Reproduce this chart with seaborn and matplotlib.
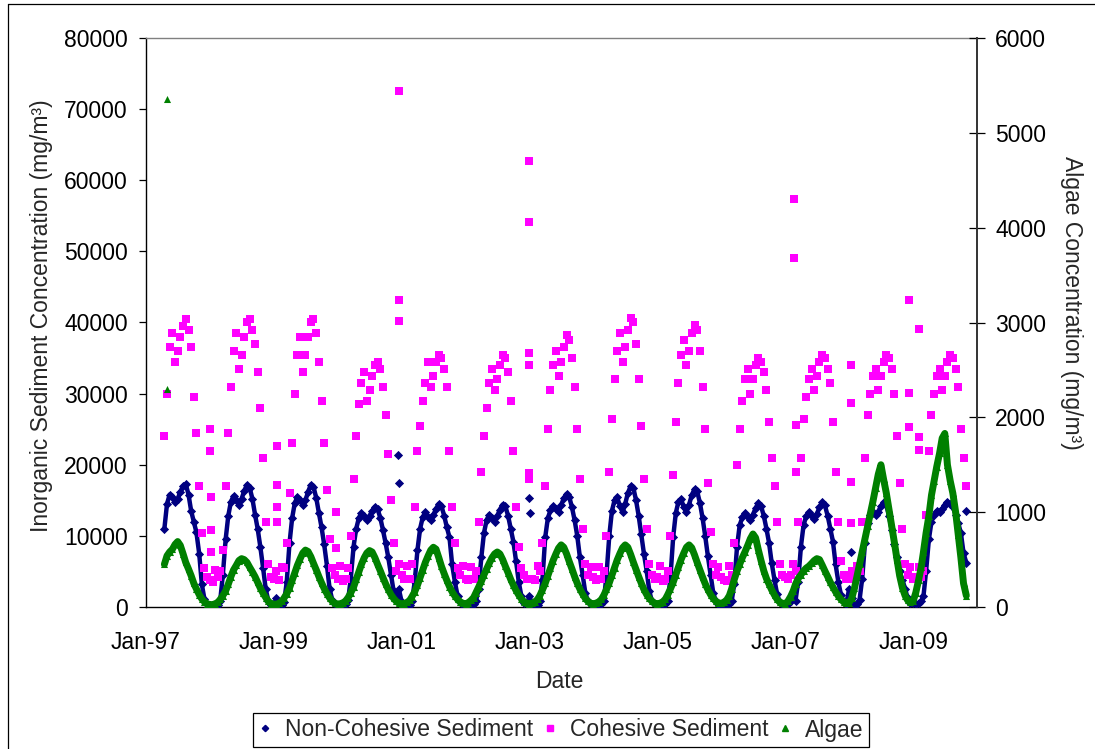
import pandas as pd
import matplotlib
matplotlib.use("Agg")
import matplotlib.pyplot as plt
import matplotlib.dates as mdates
from matplotlib.lines import Line2D
import seaborn as sns

# ---------------------------------------------------------------------------
# Semi-monthly samples (1st and 16th of every month, Jan..Dec), one row per year.
# None marks dates outside the simulation period.
# ---------------------------------------------------------------------------
YEARS = list(range(1997, 2010))
SAMPLE_DAYS = (1, 16)

# Non-cohesive sediment, mg/m3 (left axis)
non_cohesive = [
    [None, None, None, None, None, None, None, 11000, 14500, 15800, 15500, 14800,
     15200, 16200, 17000, 17300, 15800, 13500, 12000, 10500, 7500, 3200, 1100, 400],
    [250, 300, 200, 350, 900, 4500, 9500, 12800, 14800, 15600, 15000, 14400,
     15200, 16300, 17200, 16800, 15200, 13000, 11000, 8500, 5500, 2500, 900, 350],
    [300, 1200, 300, 250, 700, 3500, 9000, 12500, 14600, 15500, 15000, 14300,
     15000, 16200, 17200, 16900, 15300, 13200, 11200, 8800, 5800, 2600, 1000, 400],
    [300, 250, 300, 400, 1000, 4000, 8500, 11000, 12500, 13200, 12800, 12300,
     12800, 13500, 14100, 13800, 12500, 10800, 9000, 7000, 4500, 2200, 1200, 2500],
    [700, 400, 300, 350, 900, 3500, 8000, 11000, 12600, 13300, 12700, 12200,
     12900, 13800, 14500, 14200, 12800, 11200, 9800, 6000, 3500, 1600, 700, 300],
    [300, 250, 300, 400, 800, 2500, 7000, 10400, 12200, 13000, 12500, 12000,
     12800, 13700, 14400, 14200, 12800, 11000, 9200, 6500, 3500, 1500, 600, 400],
    [1500, 400, 300, 350, 900, 3800, 9800, 12500, 13600, 14200, 13800, 13400,
     14300, 15300, 15900, 15500, 14000, 12200, 10000, 7000, 4500, 2000, 800, 400],
    [300, 250, 300, 400, 900, 4500, 10000, 13500, 15000, 15400, 14200, 13300,
     14500, 16000, 17000, 16800, 15000, 12800, 10200, 7500, 5000, 2200, 800, 400],
    [300, 250, 300, 400, 800, 4000, 9800, 13200, 14800, 15200, 14000, 13300,
     14400, 15700, 16600, 16300, 14600, 12500, 10000, 7200, 4500, 2000, 800, 400],
    [300, 250, 300, 400, 800, 3200, 8500, 11500, 12600, 13200, 12700, 12300,
     13000, 13900, 14600, 14200, 12800, 11000, 9000, 6200, 3800, 1800, 700, 400],
    [300, 400, 800, 1500, 900, 3500, 8500, 11500, 12800, 13300, 12800, 12400,
     13100, 14000, 14700, 14300, 12800, 11000, 9200, 6000, 3500, 1700, 700, 400],
    [2500, 1200, 400, 400, 1000, 4000, 9000, 11800, 13000, 13400, 13000, 13400,
     14200, 14700, 14300, 12800, 10800, 8800, 7000, 5000, 3800, 2600, 1200, 600],
    [500, 400, 500, 800, 1500, 5000, 9500, 12000, 13000, 13500, 13300, 13800,
     14400, 14800, 14500, 14000, 13000, 11800, 10400, 7600, 6200, None, None, None],
]

# Cohesive sediment, mg/m3 (left axis)
cohesive = [
    [None, None, None, None, None, None, None, 24000, 30000, 36500, 38500, 34500,
     36000, 38000, 39500, 40500, 39000, 36500, 29500, 24500, 17000, 10400, 5500, 4200],
    [3800, 3500, 5200, 4200, 5000, 8000, 17000, 24500, 31000, 36000, 38500, 33500,
     35500, 38000, 40000, 40500, 39000, 37000, 33000, 28000, 21000, 12000, 6000, 4200],
    [4000, 5000, 3800, 5600, 5500, 9000, 16000, 23000, 30000, 35500, 38000, 33000,
     35500, 38000, 40000, 40500, 38500, 34500, 29000, 23000, 16500, 9500, 5500, 4500],
    [4000, 5800, 3600, 4000, 5500, 10000, 18000, 24000, 28500, 31500, 33000, 29000,
     30500, 32500, 34000, 34500, 33500, 31000, 27000, 21500, 15000, 9000, 5000, 6000],
    [4500, 4000, 5800, 4000, 6000, 14000, 22000, 25500, 29000, 31500, 34500, 31000,
     32500, 34500, 35500, 35000, 33500, 31000, 22000, 14000, 9000, 5500, 4500, 5800],
    [4000, 3800, 5600, 4000, 5000, 12000, 19000, 24000, 28000, 31500, 33500, 30500,
     32000, 34000, 35500, 35000, 33000, 29000, 22000, 14000, 8500, 5500, 4500, 4000],
    [18000, 4000, 3800, 5800, 5000, 9000, 17000, 25000, 30500, 34000, 36000, 32500,
     34500, 36500, 38200, 37500, 35000, 31000, 25000, 18000, 11000, 6000, 4500, 5600],
    [4200, 3800, 5600, 4000, 5000, 10000, 19000, 26500, 32000, 36000, 38500, 34500,
     36500, 39000, 40600, 40000, 37000, 32000, 25500, 18000, 11000, 6000, 4500, 4000],
    [4200, 5800, 3600, 4000, 5000, 10000, 18500, 26000, 31500, 35500, 37500, 34000,
     36000, 38500, 39700, 39000, 36000, 31000, 25000, 17500, 10500, 6000, 4500, 5600],
    [4200, 3800, 3600, 5800, 4500, 9000, 20000, 25000, 29000, 32000, 33500, 30000,
     32000, 34000, 35000, 34500, 33000, 30500, 26000, 21000, 17000, 12000, 6000, 4500],
    [4200, 4000, 4500, 6000, 5000, 12000, 21000, 26500, 29500, 32000, 33500, 30500,
     32500, 34500, 35500, 35000, 33500, 31500, 26000, 19000, 12000, 6500, 4500, 4000],
    [4500, 5000, 4000, 5800, 5000, 12000, 21000, 27000, 30000, 32500, 33500, 30500,
     32500, 34500, 35500, 35000, 33500, 30000, 24000, 17500, 11000, 6000, 4500, 5600],
    [4000, 4200, 5600, 4200, 5000, 13000, 22000, 27000, 30000, 32500, 33500, 30500,
     32500, 34500, 35500, 35000, 33500, 31000, 25000, 21000, 17000, None, None, None],
]

# Algae, mg/m3 (right axis)
algae = [
    [None, None, None, None, None, None, None, 450, 540, 580, 610, 660,
     690, 650, 560, 470, 400, 330, 250, 190, 130, 85, 55, 35],
    [25, 25, 35, 50, 80, 120, 170, 240, 320, 390, 440, 490,
     510, 500, 470, 420, 370, 320, 260, 200, 145, 100, 60, 35],
    [30, 30, 40, 60, 95, 140, 200, 280, 360, 440, 510, 570,
     600, 585, 530, 460, 390, 320, 255, 195, 140, 95, 60, 40],
    [30, 35, 45, 65, 100, 150, 210, 290, 370, 450, 520, 570,
     595, 580, 520, 450, 380, 310, 245, 185, 130, 90, 60, 40],
    [35, 35, 50, 70, 110, 160, 230, 310, 390, 470, 540, 600,
     630, 610, 520, 430, 350, 280, 215, 160, 115, 80, 55, 40],
    [35, 45, 70, 100, 150, 210, 270, 340, 400, 460, 520, 560,
     580, 560, 500, 430, 360, 290, 230, 175, 125, 85, 55, 40],
    [35, 40, 55, 80, 120, 180, 250, 330, 410, 490, 560, 620,
     655, 630, 560, 480, 400, 320, 250, 190, 135, 90, 60, 40],
    [35, 40, 55, 80, 125, 185, 255, 335, 415, 495, 565, 625,
     655, 630, 555, 475, 395, 320, 250, 185, 130, 90, 60, 40],
    [35, 40, 55, 85, 130, 190, 260, 340, 420, 500, 570, 630,
     655, 625, 550, 470, 390, 315, 245, 185, 130, 90, 60, 40],
    [40, 50, 75, 120, 190, 290, 380, 450, 520, 580, 650, 720,
     770, 730, 600, 490, 380, 300, 240, 180, 125, 80, 50, 40],
    [35, 60, 110, 170, 240, 300, 340, 380, 410, 430, 460, 490,
     510, 500, 440, 380, 320, 260, 210, 160, 115, 80, 55, 40],
    [45, 90, 200, 330, 450, 580, 720, 850, 980, 1110, 1260, 1400,
     1500, 1350, 1200, 1030, 850, 680, 500, 330, 200, 120, 70, 50],
    [60, 150, 280, 420, 580, 780, 960, 1180, 1330, 1480, 1620, 1780,
     1830, 1500, 1330, 1200, 1000, 760, 520, 250, 120, None, None, None],
]

# Storm-event samples between the regular dates
cohesive_event_dates = [
    "1998-01-03", "1998-01-03", "1998-01-06", "1998-01-06", "1998-01-08",
    "1999-01-18", "1999-01-18", "1999-01-18", "1999-01-18",
    "1999-12-25", "1999-12-25",
    "2000-12-14", "2000-12-14", "2000-12-14",
    "2003-01-01", "2003-01-01", "2003-01-01", "2003-01-01", "2003-01-01",
    "2007-02-21", "2007-02-21", "2007-03-01", "2007-03-01",
    "2008-01-12", "2008-01-12", "2008-01-12", "2008-01-12",
    "2008-12-09", "2008-12-09", "2008-12-09",
    "2009-02-03", "2009-02-03", "2009-02-03",
]
cohesive_event_values = [
    25000, 22000, 15500, 10800, 7700,
    22600, 17200, 14100, 12000,
    13400, 8300,
    72500, 43200, 40200,
    62700, 54100, 35700, 34000, 18800,
    57400, 49100, 25600, 19000,
    34000, 28700, 17600, 11800,
    43200, 30100, 25300,
    39100, 23900, 22100,
]
non_cohesive_event_dates = ["2000-12-10", "2000-12-14", "2003-01-01", "2003-01-02",
                            "2008-01-12", "2009-10-30"]
non_cohesive_event_values = [21400, 17400, 15300, 13200, 7700, 13500]
algae_event_dates = ["1997-05-01", "1997-05-03"]
algae_event_values = [5360, 2300]

SERIES_NAMES = ["Non-Cohesive Sediment", "Cohesive Sediment", "Algae"]
COLORS = ["#000080", "#FF00FF", "#008000"]
X_TICK_YEARS = list(range(1997, 2010, 2))


def regular_frame(rows):
    dates, values = [], []
    for year, row in zip(YEARS, rows):
        k = 0
        for month in range(1, 13):
            for day in SAMPLE_DAYS:
                v = row[k]
                k += 1
                if v is not None:
                    dates.append(pd.Timestamp(year, month, day))
                    values.append(v)
    return pd.DataFrame({"date": dates, "value": values})


def event_frame(dates, values):
    return pd.DataFrame({"date": pd.to_datetime(dates), "value": values})


nc_df = regular_frame(non_cohesive)
co_df = regular_frame(cohesive)
al_df = regular_frame(algae)
nc_ev = event_frame(non_cohesive_event_dates, non_cohesive_event_values)
co_ev = event_frame(cohesive_event_dates, cohesive_event_values)
al_ev = event_frame(algae_event_dates, algae_event_values)

sns.set_style("white")
plt.rcParams["font.family"] = ["Liberation Sans", "DejaVu Sans"]
FS = 16.5

W, H = 1095, 749
fig = plt.figure(figsize=(W / 100, H / 100), dpi=100)
ax = fig.add_axes([146 / W, 1 - 607 / H, (977 - 146) / W, (607 - 38) / H])
ax2 = ax.twinx()

# non-cohesive: trace under diamond markers
sns.lineplot(data=nc_df, x="date", y="value", ax=ax, color=COLORS[0],
             lw=3.2, estimator=None, sort=True, legend=False, zorder=2)
sns.scatterplot(data=nc_df, x="date", y="value", ax=ax, color=COLORS[0],
                marker="D", s=22, linewidth=0, legend=False, zorder=3)
sns.scatterplot(data=nc_ev, x="date", y="value", ax=ax, color=COLORS[0],
                marker="D", s=22, linewidth=0, legend=False, zorder=3)

# cohesive: square markers only
sns.scatterplot(data=co_df, x="date", y="value", ax=ax, color=COLORS[1],
                marker="s", s=36, linewidth=0, legend=False, zorder=4)
sns.scatterplot(data=co_ev, x="date", y="value", ax=ax, color=COLORS[1],
                marker="s", s=36, linewidth=0, legend=False, zorder=4)

# algae on the secondary axis
sns.lineplot(data=al_df, x="date", y="value", ax=ax2, color=COLORS[2],
             lw=5.0, estimator=None, sort=True, legend=False, zorder=2)
sns.scatterplot(data=al_df, x="date", y="value", ax=ax2, color=COLORS[2],
                marker="^", s=26, linewidth=0, legend=False, zorder=3)
sns.scatterplot(data=al_ev, x="date", y="value", ax=ax2, color=COLORS[2],
                marker="^", s=26, linewidth=0, legend=False, zorder=3)

ax.set_xlim(pd.Timestamp(1997, 1, 1), pd.Timestamp(2010, 1, 1))
ax.set_ylim(0, 80000)
ax2.set_ylim(0, 6000)
ax.set_yticks(range(0, 80001, 10000))
ax2.set_yticks(range(0, 6001, 1000))
ax.set_xticks([pd.Timestamp(y, 1, 1) for y in X_TICK_YEARS])
ax.xaxis.set_major_formatter(mdates.DateFormatter("%b-%y"))

ax.set_xlabel("")
ax.set_ylabel("")
ax2.set_ylabel("")

ax.tick_params(axis="y", direction="out", length=5, width=0.9, pad=8,
               labelsize=FS, colors="black")
ax.tick_params(axis="x", direction="out", length=4.5, width=0.9, pad=13,
               labelsize=FS, colors="black")
ax2.tick_params(axis="y", direction="inout", length=11, width=0.9, pad=7.5,
                labelsize=FS, colors="black")

for name, sp in ax.spines.items():
    sp.set_visible(name in ("left", "bottom", "top"))
    sp.set_linewidth(1.0)
    sp.set_color("black")
ax.spines["top"].set_color("#808080")
for name, sp in ax2.spines.items():
    sp.set_visible(name == "right")
ax2.spines["right"].set_color("#333333")
ax2.spines["right"].set_linewidth(1.4)
ax.grid(False)
ax2.grid(False)

fig.text(42 / W, 1 - 316 / H, "Inorganic Sediment Concentration (mg/m³)",
         rotation=90, ha="center", va="center", fontsize=FS)
fig.text(1072 / W, 1 - 303 / H, "Algae Concentration (mg/m³)",
         rotation=270, ha="center", va="center", fontsize=FS)
fig.text(559 / W, 1 - 688 / H, "Date", ha="center", va="baseline", fontsize=FS)

handles = [
    Line2D([], [], ls="none", marker="D", ms=3.2, color=COLORS[0]),
    Line2D([], [], ls="none", marker="s", ms=4.2, color=COLORS[1]),
    Line2D([], [], ls="none", marker="^", ms=4.2, color=COLORS[2]),
]
leg = fig.legend(handles, SERIES_NAMES, loc="center", ncol=3,
                 bbox_to_anchor=(561 / W, 1 - 730 / H), fontsize=FS,
                 frameon=True, fancybox=False, framealpha=1, edgecolor="black",
                 handlelength=0.6, handletextpad=0.55, columnspacing=0.45,
                 borderpad=0.25, borderaxespad=0)
leg.get_frame().set_linewidth(0.9)

# chart area outline
fig.add_artist(Line2D([8 / W, 8 / W], [0, 1 - 4 / H], transform=fig.transFigure,
                      color="black", lw=0.9))
fig.add_artist(Line2D([8 / W, 1], [1 - 4 / H, 1 - 4 / H], transform=fig.transFigure,
                      color="black", lw=0.9))

fig.savefig("out.png", dpi=100)
